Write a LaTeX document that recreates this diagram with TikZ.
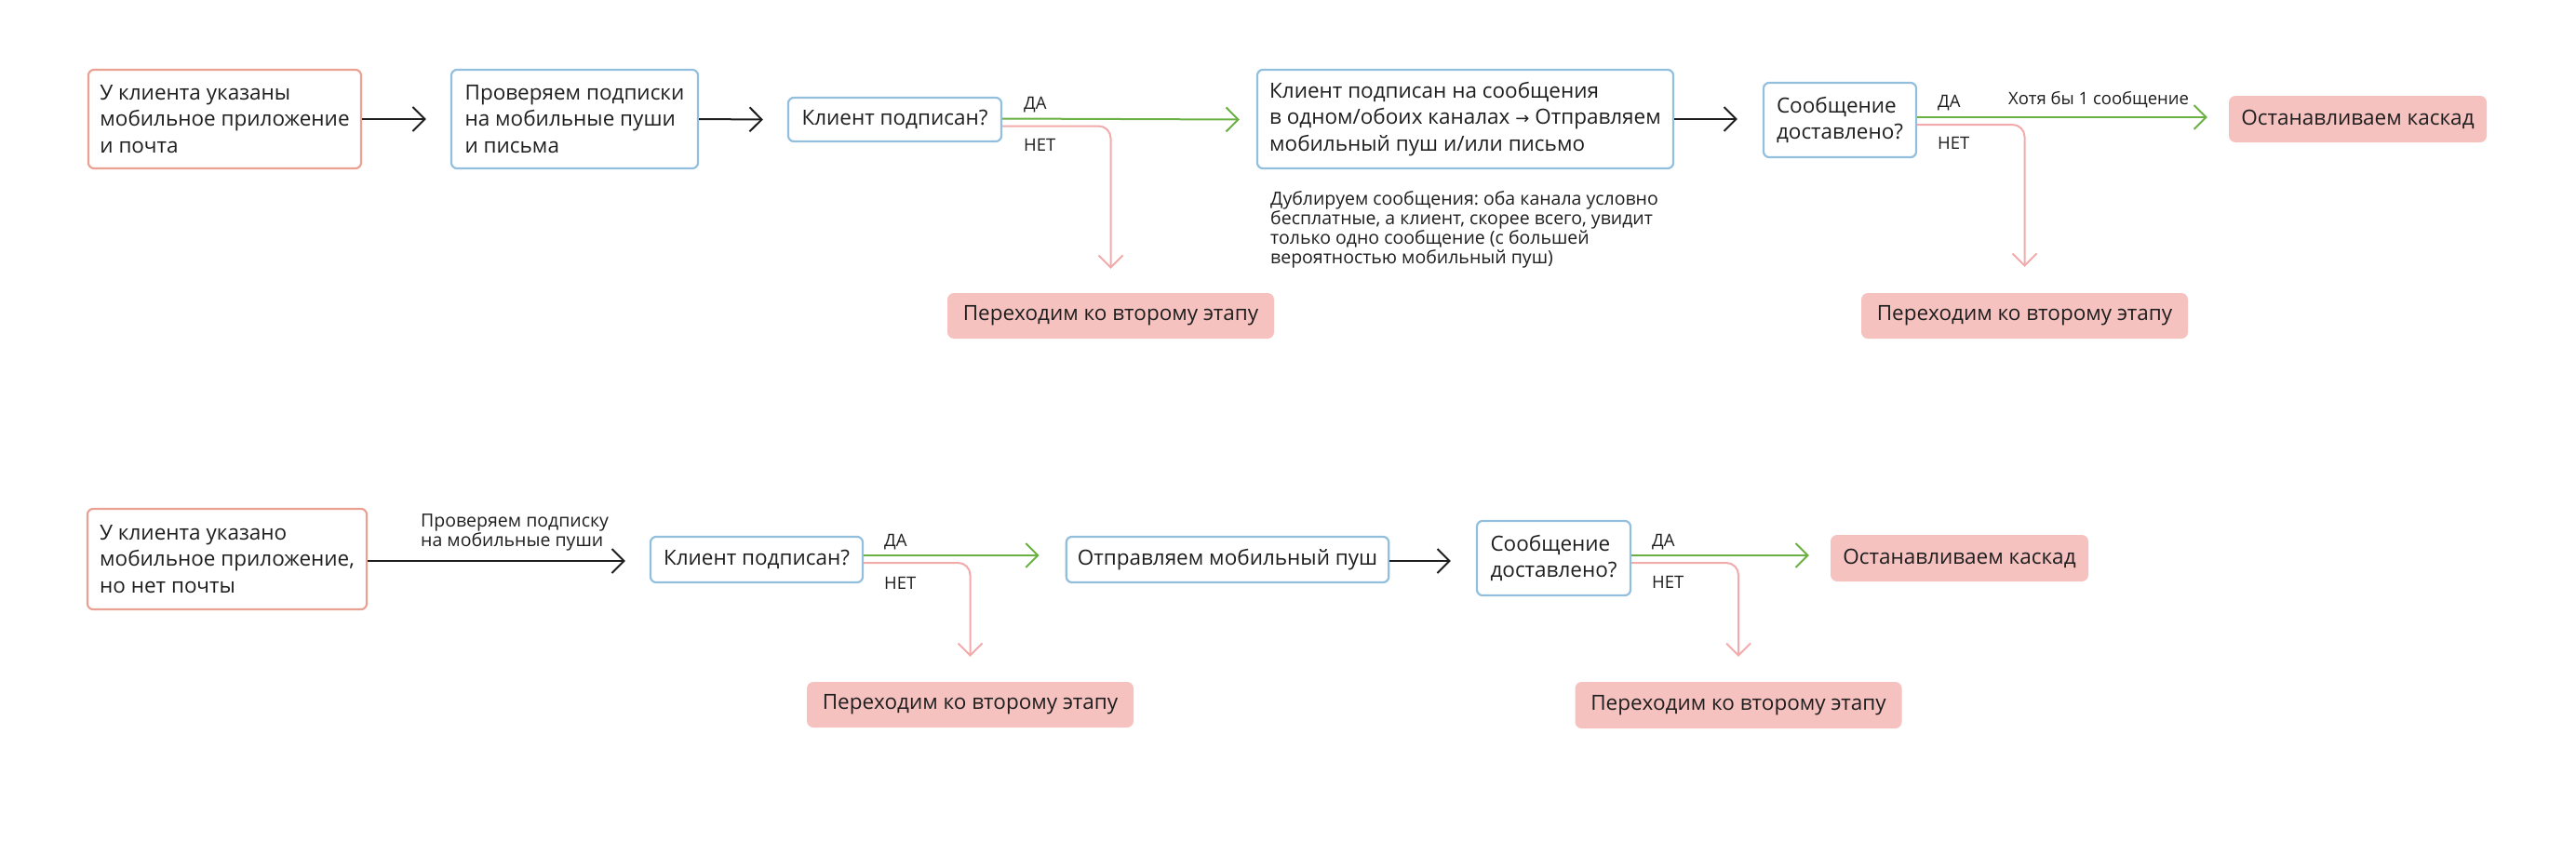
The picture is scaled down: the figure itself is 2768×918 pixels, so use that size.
\documentclass[tikz,border=0pt]{standalone}
\usepackage{fontspec}
\setmainfont{Open Sans}
\newfontfamily\arrfont{DejaVu Sans}
\usetikzlibrary{arrows.meta}
\frenchspacing
\definecolor{txt}{HTML}{1E1E1E}
\definecolor{boxred}{HTML}{E9A193}
\definecolor{boxblue}{HTML}{91BFDD}
\definecolor{pinkfill}{HTML}{F5C2C0}
\definecolor{okgreen}{HTML}{6BB043}
\definecolor{noline}{HTML}{F2AAAA}
\tikzset{
  x=1pt, y=-1pt,
  base/.style={text=txt, font=\fontsize{22.5}{28.5}\selectfont, rounded corners=6pt, line width=2.2pt, inner xsep=12pt, inner ysep=0pt},
  redbox/.style={base, draw=boxred},
  bluebox/.style={base, draw=boxblue},
  pinkbox/.style={base, fill=pinkfill, rounded corners=7pt},
  small/.style={text=txt, font=\fontsize{19.5}{21}\selectfont, inner sep=0pt, align=left},
  lbl/.style={text=txt, font=\fontsize{18.5}{20}\selectfont, inner sep=0pt},
  flow/.style={draw=txt, line width=2pt, -{Straight Barb[length=13pt,width=26pt,line width=2pt]}},
  yes/.style={draw=okgreen, line width=2pt, -{Straight Barb[length=13pt,width=26pt,line width=2pt]}},
  no/.style={draw=noline, line width=2pt, rounded corners=13pt, -{Straight Barb[length=13pt,width=26pt,line width=2pt]}}
}
\begin{document}
\frenchspacing
\begin{tikzpicture}
\path[use as bounding box] (0,0) rectangle (2768,918);
% ---------- row 1 ----------
\node[redbox, align=left, minimum width=293pt, minimum height=106pt] (A) at (241.5,128) {У клиента указаны\\мобильное приложение\\и почта};
\node[bluebox, align=left, minimum width=265pt, minimum height=106pt] (B) at (617.5,128) {Проверяем подписки\\на мобильные пуши\\и письма};
\node[bluebox, align=center, minimum width=229pt, minimum height=47pt] (C) at (961.5,128.5) {Клиент подписан?};
\node[bluebox, align=left, minimum width=447pt, minimum height=106pt] (D) at (1574.5,128) {Клиент подписан на сообщения\\в одном/обоих каналах {\arrfont\fontsize{18}{20}\selectfont →} Отправляем\\мобильный пуш и/или письмо};
\node[bluebox, align=left, minimum width=164pt, minimum height=80pt] (E) at (1977,129) {Сообщение\\доставлено?};
\node[pinkbox, align=center, minimum width=277pt, minimum height=50pt] (S1) at (2533.5,128) {Останавливаем каскад};
\node[pinkbox, align=center, minimum width=351pt, minimum height=49pt] (P1) at (1193.5,339.5) {Переходим ко второму этапу};
\node[pinkbox, align=center, minimum width=351pt, minimum height=49pt] (P2) at (2175.5,339.5) {Переходим ко второму этапу};
\node[small, anchor=base west] (N1) at (1365,283) {Дублируем сообщения: оба канала условно\\бесплатные, а клиент, скорее всего, увидит\\только одно сообщение (с большей\\вероятностью мобильный пуш)};
\path[flow] (A.east) -- ([xshift=-26pt]B.west);
\path[flow] (B.east) -- ([xshift=-26pt]C.west);
\path[yes] ([yshift=1pt]C.east) -- ([xshift=-18pt]C.east -| D.west);
\path[no] ([yshift=-7pt]C.east) -| ([yshift=25pt]P1.north);
\path[flow] (D.east) -- ([xshift=-27pt]D.east -| E.west);
\path[yes] ([yshift=3pt]E.east) -- ([xshift=-22pt,yshift=3pt]E.east -| S1.west);
\path[no] ([yshift=-5pt]E.east) -| ([yshift=27pt]P2.north);
\node[lbl, anchor=base west] (yc) at (1100,117) {ДА};
\node[lbl, anchor=base west] (nc) at (1100,162) {НЕТ};
\node[lbl, anchor=base west] (ye) at (2082,115) {ДА};
\node[lbl, anchor=base west] (ne) at (2082,160) {НЕТ};
\node[lbl, anchor=base west] (ht) at (2158,112) {Хотя бы 1 сообщение};
% ---------- row 2 ----------
\node[redbox, align=left, minimum width=300pt, minimum height=108pt] (F) at (244,601) {У клиента указано\\мобильное приложение,\\но нет почты};
\node[bluebox, align=center, minimum width=228pt, minimum height=49pt] (G) at (813,601.5) {Клиент подписан?};
\node[bluebox, align=center, minimum width=342pt, minimum height=49pt] (H) at (1319,601.5) {Отправляем мобильный пуш};
\node[bluebox, align=left, minimum width=165pt, minimum height=80pt] (I) at (1669.5,600) {Сообщение\\доставлено?};
\node[pinkbox, align=center, minimum width=277pt, minimum height=50pt] (S2) at (2105.5,600) {Останавливаем каскад};
\node[pinkbox, align=center, minimum width=351pt, minimum height=49pt] (P3) at (1042.5,757.5) {Переходим ко второму этапу};
\node[pinkbox, align=center, minimum width=351pt, minimum height=50pt] (P4) at (1868,758) {Переходим ко второму этапу};
\node[small, anchor=base west, font=\fontsize{19.5}{19.5}\selectfont] (N2) at (452,587) {Проверяем подписку\\на мобильные пуши};
\path[flow] ([yshift=-2pt]F.east) -- ([xshift=-26pt,yshift=-2pt]F.east -| G.west);
\path[yes] ([yshift=4.5pt]G.east) -- ([xshift=-28pt,yshift=4.5pt]G.east -| H.west);
\path[no] ([yshift=-3.5pt]G.east) -| ([yshift=26pt]P3.north);
\path[flow] ([yshift=-1.5pt]H.east) -- ([xshift=-27pt,yshift=-1.5pt]H.east -| I.west);
\path[yes] ([yshift=3pt]I.east) -- ([xshift=-22pt,yshift=3pt]I.east -| S2.west);
\path[no] ([yshift=-5pt]I.east) -| ([yshift=26pt]P4.north);
\node[lbl, anchor=base west] (yg) at (950,587) {ДА};
\node[lbl, anchor=base west] (ng) at (950,633) {НЕТ};
\node[lbl, anchor=base west] (yi) at (1775,587) {ДА};
\node[lbl, anchor=base west] (ni) at (1775,632) {НЕТ};
\end{tikzpicture}
\end{document}
